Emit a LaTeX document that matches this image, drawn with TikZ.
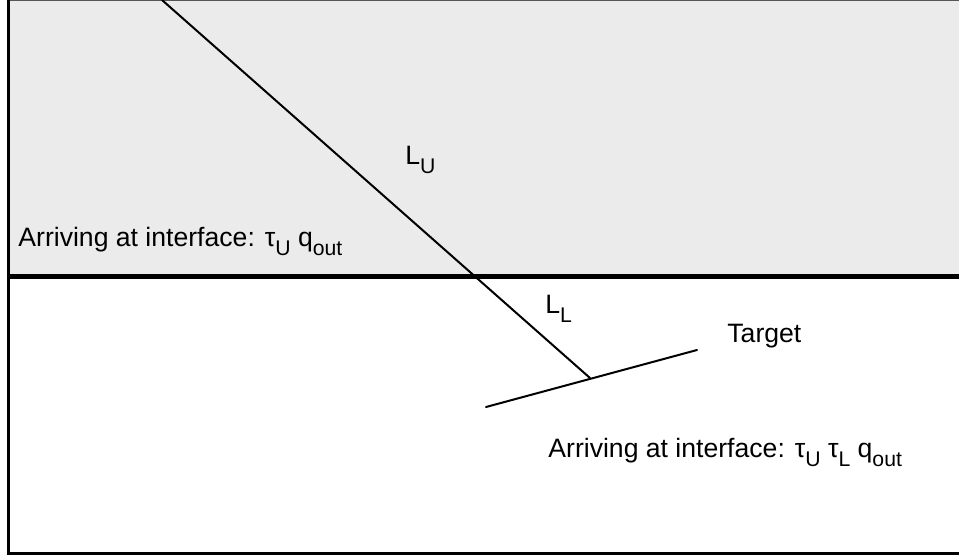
\documentclass[tikz,border=0pt]{standalone}
\usepackage{fontspec}
\setmainfont{Liberation Sans}
\definecolor{upper}{HTML}{EBEBEB}
\definecolor{topedge}{HTML}{555555}
\newcommand\sbs[1]{\raisebox{-0.36em}{\fontsize{10.6}{11}\selectfont #1}}
\tikzset{
  lbl/.style={anchor=base west, inner sep=0pt, font=\fontsize{13.3}{15}\selectfont},
  ray/.style={line width=1pt, line cap=round},
}
\begin{document}
\begin{tikzpicture}[x=0.5pt, y=-0.5pt]
\useasboundingbox (0,0) rectangle (959,558);
% upper medium
\fill[upper] (9,0) rectangle (959,276);
\draw[topedge, line width=0.6pt] (9,0.6) -- (959,0.6);
% interface
\draw[line width=2.5pt] (9,276) -- (959,276);
% frame
\draw[line width=1.5pt] (8.5,0) -- (8.5,553) -- (959,553);
% coordinates
\coordinate (src) at (162,0);
\coordinate (hit) at (590,378);
\coordinate (ta) at (486,407);
\coordinate (tb) at (697,350);
% target surface and ray
\draw[ray] (ta) -- (tb);
\draw[ray] (src) -- (hit);
% labels
\node[lbl] (lu) at (405,164) {L\sbs{U}};
\node[lbl] (ll) at (545,313) {L\sbs{L}};
\node[lbl] (tg) at (727,342) {Target};
\node[lbl] (a1) at (18,246) {Arriving at interface: τ\sbs{U} q\sbs{out}};
\node[lbl] (a2) at (548,457) {Arriving at interface: τ\sbs{U} τ\sbs{L} q\sbs{out}};
\end{tikzpicture}
\end{document}
